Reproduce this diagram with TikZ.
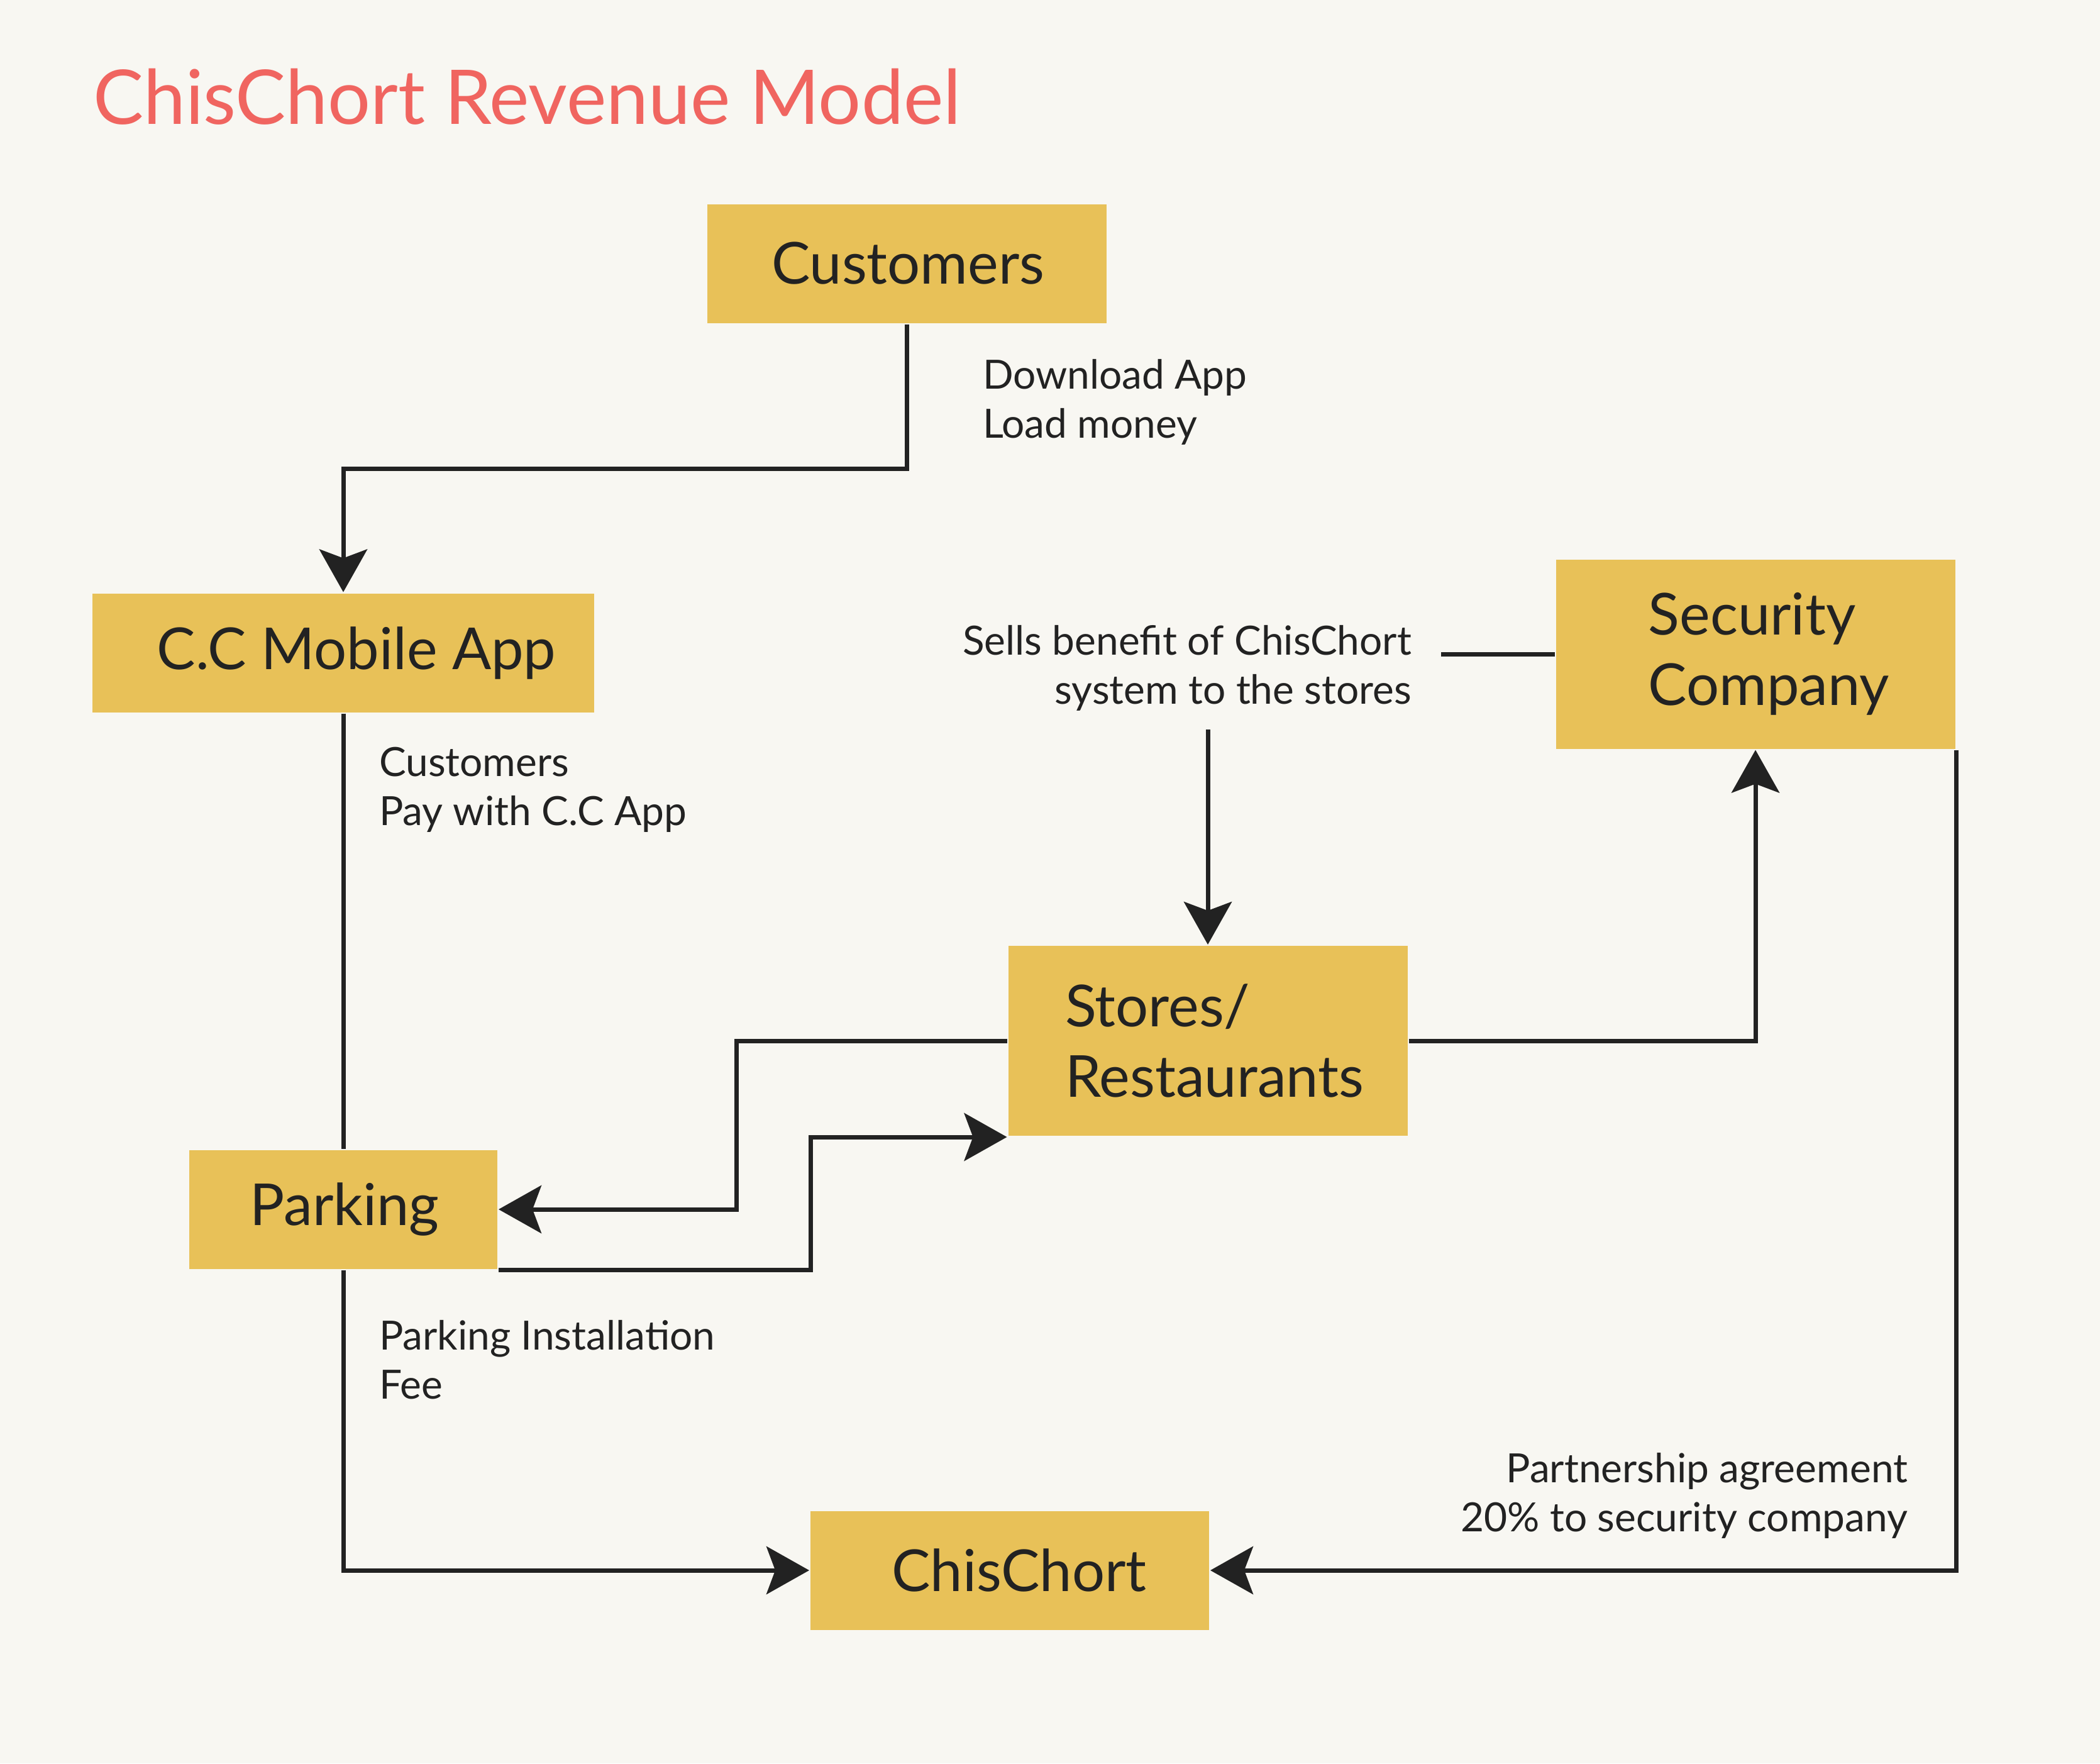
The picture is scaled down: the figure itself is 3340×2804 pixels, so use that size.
\documentclass[tikz,border=0pt]{standalone}
\usepackage{fontspec}
\setmainfont{Lato}
\usetikzlibrary{arrows.meta}
\definecolor{bg}{HTML}{F8F7F2}
\definecolor{boxc}{HTML}{E8C158}
\definecolor{ink}{HTML}{222222}
\definecolor{titlec}{HTML}{F06560}
\begin{document}
\begin{tikzpicture}[x=0.1pt,y=-0.1pt,
  box/.style={fill=boxc, draw=none, inner sep=0pt, text=ink, align=left, font=\fontsize{9.2}{11.2}\selectfont},
  lbl/.style={inner sep=0pt, text=ink, font=\fontsize{6.4}{7.8}\selectfont},
  conn/.style={draw=ink, line width=0.7pt},
  tip/.style={-{Stealth[length=6.8pt,width=7.6pt,inset=1.4pt]}}]
\fill[bg] (0,0) rectangle (3340,2804);
\useasboundingbox (0,0) rectangle (3340,2804);

\node[anchor=base west, inner sep=0pt, text=titlec, font=\fontsize{12}{14}\selectfont] (title) at (146,197) {ChisChort Revenue Model};

\node[box, minimum width=63.5pt, minimum height=18.9pt] (cust) at (1442,419) {\hspace*{0.4pt}Customers};
\node[box, minimum width=79.9pt, minimum height=18.9pt] (cc) at (546,1038) {\hspace*{4.2pt}C.C Mobile App};
\node[box, minimum width=63.5pt, minimum height=30.1pt] (sec) at (2792,1040) {\hspace*{4.3pt}Security\\\hspace*{4.3pt}Company};
\node[box, minimum width=63.5pt, minimum height=30.2pt] (stores) at (1921,1655) {\hspace*{2.1pt}Stores/\\\hspace*{2.1pt}Restaurants};
\node[box, minimum width=49pt, minimum height=18.9pt] (park) at (546,1923) {\hspace*{0.4pt}Parking};
\node[box, minimum width=63.4pt, minimum height=18.9pt] (chis) at (1606,2497) {\hspace*{3pt}ChisChort};

\coordinate (secend) at (2292,1040);
\coordinate (sellsend) at (1921,1160);

\draw[conn, tip] (cust.south) -- ++(0,230) -| (cc.north);
\draw[conn] (cc.south) -- (park.north);
\draw[conn] (sec.west) -- (secend);
\draw[conn, tip] (sellsend) -- (stores.north);
\draw[conn, tip] (stores.east) -| (sec.south);
\draw[conn, tip] (stores.west) -- ++(-430,0) |- (park.east);
\draw[conn, tip] (park.south east) -- ++(496,0) |- (stores.south west);
\draw[conn, tip] (park.south) |- (chis.west);
\draw[conn, tip] (sec.south east) |- (chis.east);

\node[lbl, anchor=base west, align=left] (l1) at (1561,696) {Download App\\Load money};
\node[lbl, anchor=base west, align=left] (l2) at (601,1312) {Customers\\Pay with C.C App};
\node[lbl, anchor=base east, align=right] (l3) at (2247,1119) {Sells benefit of ChisChort\\system to the stores};
\node[lbl, anchor=base west, align=left] (l4) at (601,2224) {Parking Installation\\Fee};
\node[lbl, anchor=base east, align=right] (l5) at (3036,2435) {Partnership agreement\\20\% to security company};
\end{tikzpicture}
\end{document}
